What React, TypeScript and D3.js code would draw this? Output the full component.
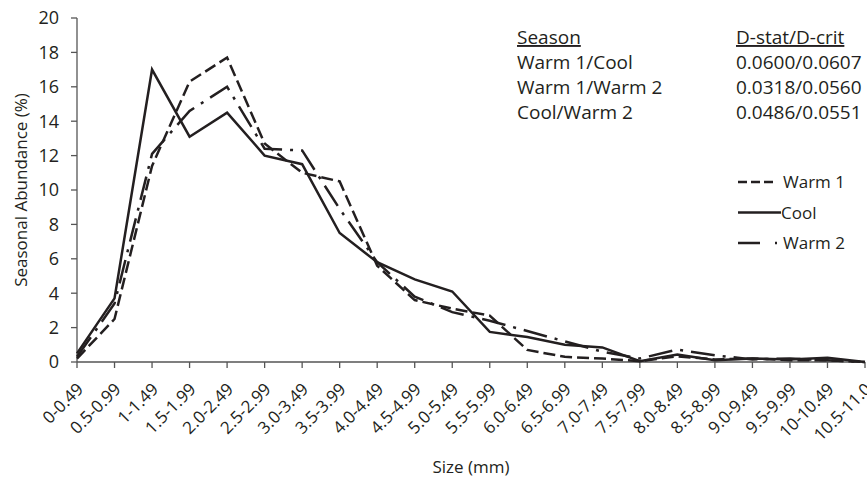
import React from "react";
import * as d3 from "d3";

const categories = ["0-0.49","0.5-0.99","1-1.49","1.5-1.99","2.0-2.49","2.5-2.99","3.0-3.49","3.5-3.99","4.0-4.49","4.5-4.99","5.0-5.49","5.5-5.99","6.0-6.49","6.5-6.99","7.0-7.49","7.5-7.99","8.0-8.49","8.5-8.99","9.0-9.49","9.5-9.99","10-10.49","10.5-11.0"];
const warm1 = [0.2, 2.5, 11.4, 16.3, 17.7, 12.7, 11.0, 10.5, 5.6, 3.6, 3.1, 2.7, 0.7, 0.3, 0.2, 0.05, 0.33, 0.15, 0.2, 0.1, 0.1, 0];
const cool = [0.5, 3.7, 17.0, 13.1, 14.5, 12.0, 11.5, 7.5, 5.8, 4.8, 4.1, 1.75, 1.45, 1.0, 0.85, 0.05, 0.43, 0.1, 0.2, 0.15, 0.25, 0];
const warm2 = [0.3, 3.4, 12.1, 14.6, 16.0, 12.4, 12.3, 8.9, 5.8, 3.8, 2.9, 2.4, 1.8, 1.2, 0.6, 0.2, 0.72, 0.39, 0.15, 0.2, 0.1, 0];
const yTicks = [0, 2, 4, 6, 8, 10, 12, 14, 16, 18, 20];
const statHeader = ["Season", "D-stat/D-crit"];
const statSeasons = ["Warm 1/Cool", "Warm 1/Warm 2", "Cool/Warm 2"];
const statValues = ["0.0600/0.0607", "0.0318/0.0560", "0.0486/0.0551"];
const seriesNames = ["Warm 1", "Cool", "Warm 2"];

const W = 867, H = 479;
const left = 77, right = 865, top = 18, bottom = 362;
const font = "'Open Sans', sans-serif";
const ink = "#231f20";

export default function App() {
  const x = d3.scalePoint<string>().domain(categories).range([left, right]);
  const y = d3.scaleLinear().domain([0, 20]).range([bottom, top]);
  const line = d3.line<number>().x((_, i) => x(categories[i]) as number).y((d) => y(d));

  const series = [
    { name: seriesNames[0], values: warm1, dash: "12,5", legendDash: "9,4" },
    { name: seriesNames[1], values: cool, dash: "none", legendDash: "none" },
    { name: seriesNames[2], values: warm2, dash: "24,8,3,8", legendDash: "22,15,3,10" },
  ];

  return (
    <svg width={W} height={H} style={{ position: "absolute", left: 0, top: 0, background: "#fff" }} fontFamily={font}>
      {/* y axis */}
      <line x1={left} x2={left} y1={top} y2={bottom} stroke="#555" strokeWidth={1.3} />
      {yTicks.map((t) => (
        <g key={t}>
          <line x1={left - 6} x2={left} y1={y(t)} y2={y(t)} stroke="#555" strokeWidth={1.3} />
          <text x={left - 18} y={y(t)} dy="0.36em" textAnchor="end" fontSize={18} fill={ink}>{t}</text>
        </g>
      ))}
      {/* x axis */}
      <line x1={left} x2={right} y1={bottom} y2={bottom} stroke="#555" strokeWidth={1.3} />
      {categories.map((c) => {
        const cx = x(c) as number;
        return (
          <g key={c}>
            <line x1={cx} x2={cx} y1={bottom} y2={bottom + 6} stroke="#555" strokeWidth={1.3} />
            <text transform={`translate(${cx + 3},${bottom + 24}) rotate(-45)`} textAnchor="end" dy="0.36em" fontSize={17} fill={ink}>{c}</text>
          </g>
        );
      })}
      <text x={471} y={473} textAnchor="middle" fontSize={17} fill={ink}>Size (mm)</text>
      <text transform={`translate(27,${(top + bottom) / 2}) rotate(-90)`} textAnchor="middle" fontSize={17} fill={ink}>Seasonal Abundance (%)</text>

      {/* series */}
      {series.map((s) => (
        <path key={s.name} d={line(s.values) || ""} fill="none" stroke={ink} strokeWidth={2.5} strokeDasharray={s.dash} strokeLinejoin="miter" />
      ))}

      {/* stats table */}
      <text x={517} y={44} fontSize={19} fill={ink} textDecoration="underline">{statHeader[0]}</text>
      <text x={736} y={44} fontSize={19} fill={ink} textDecoration="underline">{statHeader[1]}</text>
      {statSeasons.map((s, i) => (
        <g key={s}>
          <text x={517} y={69 + i * 25} fontSize={19} fill={ink}>{s}</text>
          <text x={736} y={69 + i * 25} fontSize={19} fill={ink}>{statValues[i]}</text>
        </g>
      ))}

      {/* legend */}
      {series.map((s, i) => {
        const ly = 182 + i * 30.5;
        return (
          <g key={s.name}>
            <line x1={738} x2={s.name === "Cool" ? 781 : 777} y1={ly} y2={ly} stroke={ink} strokeWidth={2.5} strokeDasharray={s.legendDash} />
            <text x={s.name === "Cool" ? 781 : 783} y={ly} dy="0.36em" fontSize={17} fill={ink}>{s.name}</text>
          </g>
        );
      })}
    </svg>
  );
}
